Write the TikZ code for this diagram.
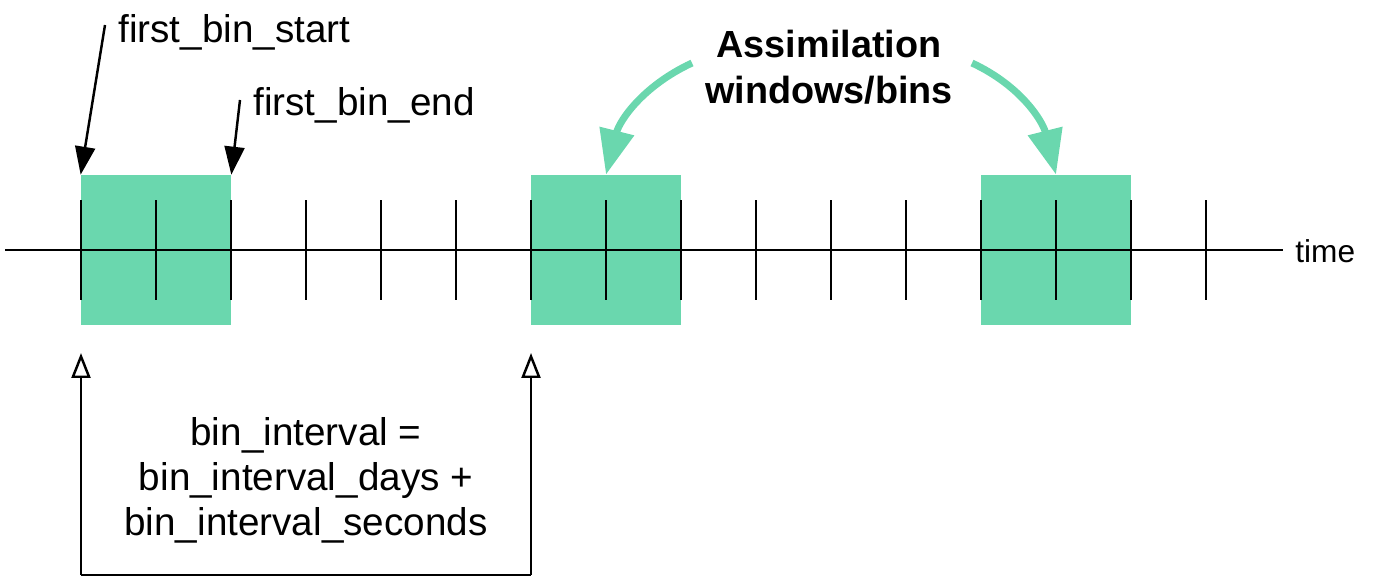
\documentclass[tikz,border=0pt]{standalone}
\usepackage{fontspec}
\setmainfont{Liberation Sans}
\usetikzlibrary{arrows.meta}
\definecolor{bingreen}{RGB}{106,215,174}
\tikzset{
  bin/.style={fill=bingreen, minimum width=3cm, minimum height=3cm, inner sep=0pt},
  tickline/.style={line width=1.4pt},
  ptr/.style={line width=1.4pt, -{Triangle[length=0.56cm,width=0.4cm]}},
  gptr/.style={bingreen, line width=4pt, -{Triangle[length=0.9cm,width=0.68cm]}},
  interval/.style={line width=1.4pt, -{Triangle[open,length=0.5cm,width=0.38cm]}},
  lbl/.style={font=\fontsize{22}{25.6}\selectfont, inner sep=0pt}
}

\begin{document}
\begin{tikzpicture}[x=0.02cm, y=-0.02cm]
        \useasboundingbox (0,0) rectangle (1375,581);

        % windows
        \node[bin] (win1) at (156,250) {};
        \node[bin] (win2) at (606,250) {};
        \node[bin] (win3) at (1056,250) {};

        % time axis
        \draw[tickline] (5,250) -- (1283,250);
        \foreach \i in {0,...,15}
            \draw[tickline] (81+75*\i,200) -- (81+75*\i,300);
        \node[lbl, font=\fontsize{18}{22}\selectfont, anchor=base west] (time) at (1295,262) {time};

        % first bin
        \node[lbl, anchor=base west] (start) at (118,43) {first\_bin\_start};
        \node[lbl, anchor=base west] (end) at (253,115) {first\_bin\_end};
        \coordinate (startfoot) at (105,25);
        \coordinate (endfoot) at (240,100);
        \draw[ptr] (startfoot) -- (win1.north west);
        \draw[ptr] (endfoot) -- (win1.north east);

        % assimilation windows
        \node[lbl, font=\fontsize{21.5}{26}\selectfont\bfseries, align=center, anchor=north] (assim) at (829,30) {Assimilation\\windows/bins};
        \coordinate (leftfoot) at (692,63);
        \coordinate (rightfoot) at (972,63);
        \draw[gptr] (leftfoot) to[out=205,in=76] (win2.north);
        \draw[gptr] (rightfoot) to[out=-25,in=104] (win3.north);

        % interval
        \coordinate (a) at (81,353);
        \coordinate (b) at (531,353);
        \coordinate (a0) at (81,575);
        \coordinate (b0) at (531,575);
        \draw[interval] (a0) -- (a);
        \draw[interval] (b0) -- (b);
        \draw[line width=1.4pt] (a0) -- (b0);
        \node[lbl, align=center, anchor=north] (binint) at (306,417) {bin\_interval =\\bin\_interval\_days +\\bin\_interval\_seconds};
    \end{tikzpicture}
\end{document}
